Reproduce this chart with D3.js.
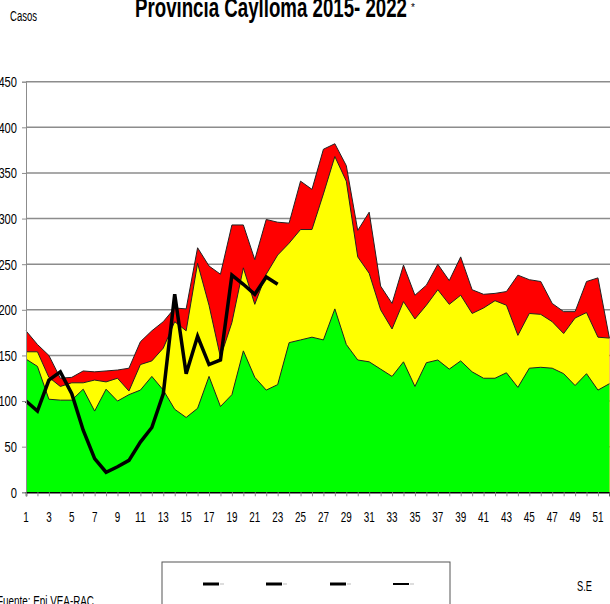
<!DOCTYPE html>
<html lang="es">
    <head>
        <meta charset="utf-8">
        <title>Canal endemico Caylloma</title>
        <script type="text/javascript" src="https://cdn.jsdelivr.net/npm/d3@7"></script>
        <style>
            body { margin: 0; background: #fff; }
            text { font-family: "Liberation Sans", Arial, sans-serif; }
        </style>
    </head>
    <body>
        <script type="text/javascript">

            // semanas epidemiologicas
            var weeks = d3.range(1, 53);
            var weekLabels = d3.range(1, 53, 2);
            var yTicks = [0, 50, 100, 150, 200, 250, 300, 350, 400, 450];

            // canal endemico (limites superiores de cada zona)
            var epidemia = [177, 162, 150, 125, 126, 133, 132, 133, 134, 136, 165, 177, 187, 202, 201, 268,
                248, 239, 293, 293, 255, 299, 296, 295, 341, 332, 376, 382, 358, 287, 307, 226, 207, 249,
                216, 227, 250, 232, 258, 222, 217, 218, 220, 238, 233, 231, 207, 198, 198, 231, 235, 169];
            var alarma = [154, 154, 126, 116, 120, 120, 123, 121, 125, 111, 140, 144, 158, 187, 177, 251,
                205, 148, 186, 246, 206, 239, 260, 273, 288, 288, 327, 368, 341, 258, 240, 200, 179, 209,
                190, 205, 222, 206, 216, 196, 202, 210, 205, 172, 196, 195, 187, 174, 191, 197, 170, 169];
            var seguridad = [146, 138, 102, 101, 101, 113, 89, 113, 100, 107, 112, 127, 112, 91, 82, 92,
                127, 94, 107, 155, 126, 112, 118, 164, 167, 170, 167, 201, 162, 145, 143, 135, 127, 143,
                116, 142, 145, 135, 144, 132, 125, 125, 131, 115, 136, 137, 136, 130, 117, 130, 112, 119];
            // casos 2022
            var casos2022 = [100, 89, 123, 132, 108, 68, 37, 22, 28, 35, 55, 71, 108, 217, 130, 171,
                140, 145, 238, 228, 217, 236, 228];

            var w = 610;
            var h = 604;
            var digitW = 5.5;   // texto estrecho como en el original

            d3.select("svg").remove();
            var svg = d3.select("body")
                .append("svg")
                .attr("width", w)
                .attr("height", h);

            var x = d3.scaleLinear().domain([1, 52]).range([26, 609.4]);
            var y = d3.scaleLinear().domain([0, 450]).range([492.3, 81.7]);

            // gridlines
            svg.append("g")
                .selectAll("line")
                .data(yTicks.slice(1))
                .enter()
                .append("line")
                .attr("x1", 26)
                .attr("x2", w)
                .attr("y1", function(d) { return y(d); })
                .attr("y2", function(d) { return y(d); })
                .attr("stroke", "#8c8c8c")
                .attr("stroke-width", 1.5);

            function band(values, color) {
                var area = d3.area()
                    .x(function(d, i) { return x(weeks[i]); })
                    .y0(y(0))
                    .y1(function(d) { return y(d); });
                svg.append("path")
                    .attr("d", area(values))
                    .attr("fill", color);
                var line = d3.line()
                    .x(function(d, i) { return x(weeks[i]); })
                    .y(function(d) { return y(d); });
                svg.append("path")
                    .attr("d", line(values))
                    .attr("fill", "none")
                    .attr("stroke", "#222")
                    .attr("stroke-width", 1);
            }

            band(epidemia, "#ff0000");
            band(alarma, "#ffff00");
            band(seguridad, "#00ff00");

            // linea 2022
            svg.append("path")
                .attr("d", d3.line()
                    .x(function(d, i) { return x(weeks[i]); })
                    .y(function(d) { return y(d); })(casos2022))
                .attr("fill", "none")
                .attr("stroke", "#000")
                .attr("stroke-width", 3.5);

            // eje y
            var yAxis = d3.axisLeft(y).tickValues(yTicks).tickSize(4).tickPadding(5);
            var gy = svg.append("g")
                .attr("transform", "translate(26,0)")
                .call(yAxis);
            gy.select(".domain").attr("stroke", "#8c8c8c");
            gy.selectAll(".tick line").attr("stroke", "#8c8c8c");
            gy.selectAll("text")
                .attr("font-size", 15)
                .attr("font-family", null)
                .attr("fill", "#000")
                .attr("textLength", function(d) { return String(d).length * 6.2; })
                .attr("lengthAdjust", "spacingAndGlyphs");

            // eje x
            var xAxis = d3.axisBottom(x).tickValues(weeks).tickSize(4).tickFormat("");
            var gx = svg.append("g")
                .attr("transform", "translate(0," + y(0) + ")")
                .call(xAxis);
            gx.select(".domain").attr("stroke", "#000").attr("stroke-width", 1.5);
            gx.selectAll(".tick line").attr("stroke", "#8c8c8c");

            svg.selectAll(".xlab")
                .data(weekLabels)
                .enter()
                .append("text")
                .attr("class", "xlab")
                .text(function(d) { return d; })
                .attr("x", function(d) { return x(d); })
                .attr("y", 522)
                .attr("text-anchor", "middle")
                .attr("font-size", 14)
                .attr("textLength", function(d) { return String(d).length * digitW; })
                .attr("lengthAdjust", "spacingAndGlyphs");

            // titulo
            svg.append("text")
                .text("Provincia Caylloma 2015- 2022")
                .attr("x", 135)
                .attr("y", 17)
                .attr("textLength", 272)
                .attr("lengthAdjust", "spacingAndGlyphs")
                .attr("font-size", 28)
                .attr("font-weight", "bold");
            svg.append("text")
                .text("*")
                .attr("x", 411)
                .attr("y", 11)
                .attr("font-size", 10);

            svg.append("text")
                .text("Casos")
                .attr("x", 10)
                .attr("y", 21)
                .attr("font-size", 14)
                .attr("textLength", 27)
                .attr("lengthAdjust", "spacingAndGlyphs");

            svg.append("text")
                .text("S.E")
                .attr("x", 577)
                .attr("y", 591)
                .attr("font-size", 14)
                .attr("textLength", 15)
                .attr("lengthAdjust", "spacingAndGlyphs");

            svg.append("text")
                .text("Fuente: Epi VEA-RAC")
                .attr("x", -3)
                .attr("y", 606)
                .attr("font-size", 14)
                .attr("textLength", 97)
                .attr("lengthAdjust", "spacingAndGlyphs");

            // leyenda
            svg.append("rect")
                .attr("x", 162)
                .attr("y", 562)
                .attr("width", 288)
                .attr("height", 60)
                .attr("fill", "#fff")
                .attr("stroke", "#555")
                .attr("stroke-width", 1);

            var legendX = [203, 266, 330, 393];
            var legendW = [3, 3, 3, 2];
            svg.selectAll(".leg")
                .data(legendX)
                .enter()
                .append("line")
                .attr("class", "leg")
                .attr("x1", function(d) { return d; })
                .attr("x2", function(d) { return d + 16; })
                .attr("y1", 584)
                .attr("y2", 584)
                .attr("stroke", "#000")
                .attr("stroke-width", function(d, i) { return legendW[i]; });
            svg.selectAll(".legtail")
                .data(legendX)
                .enter()
                .append("line")
                .attr("class", "legtail")
                .attr("x1", function(d) { return d + 17; })
                .attr("x2", function(d) { return d + 21; })
                .attr("y1", 584)
                .attr("y2", 584)
                .attr("stroke", "#bbb")
                .attr("stroke-width", 1);

        </script>
    </body>
</html>
